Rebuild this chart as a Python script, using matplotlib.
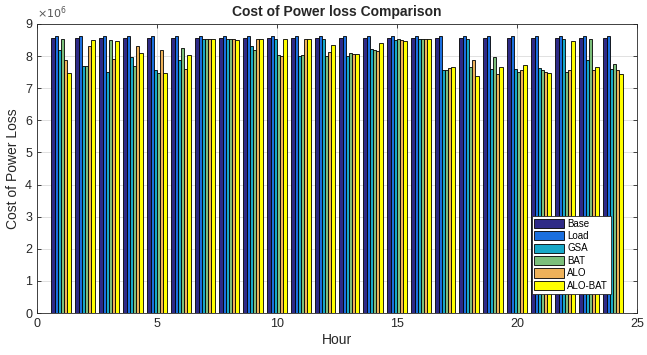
import numpy as np
import matplotlib.pyplot as plt

plt.rcParams["font.family"] = ["Liberation Sans", "DejaVu Sans"]

hours = np.arange(1, 25)
series_names = ["Base", "Load", "GSA", "BAT", "ALO", "ALO-BAT"]

# cost of power loss per hour (x 1e6)
base = [8.56] * 24
load = [8.64] * 24
gsa = [8.20, 7.68, 7.50, 7.97, 7.58, 7.88, 8.52, 8.52, 8.32, 8.52, 8.00, 8.54,
       8.00, 8.21, 8.50, 8.52, 7.58, 8.53, 7.59, 7.61, 7.64, 8.53, 7.87, 7.61]
bat = [8.52, 7.68, 8.50, 7.68, 7.47, 8.26, 8.52, 8.53, 8.18, 8.03, 8.02, 8.00,
       8.11, 8.18, 8.54, 8.52, 7.58, 7.65, 7.97, 7.51, 7.58, 7.51, 8.52, 7.74]
alo = [7.88, 8.30, 7.92, 8.33, 8.19, 7.60, 8.52, 8.52, 8.52, 7.99, 8.52, 8.13,
       8.08, 8.16, 8.50, 8.52, 7.63, 7.87, 7.44, 7.57, 7.51, 7.58, 7.56, 7.56]
alo_bat = [7.46, 8.50, 8.47, 8.11, 7.47, 8.05, 8.52, 8.50, 8.52, 8.52, 8.52, 8.35,
           8.06, 8.41, 8.48, 8.52, 7.66, 7.39, 7.66, 7.71, 7.47, 8.47, 7.66, 7.44]

colors = ["#2e2a87", "#1a6fdf", "#17a8c8", "#7cbf7b", "#efb25a", "#ffff00"]

all_series = [base, load, gsa, bat, alo, alo_bat]

fig = plt.figure(figsize=(6.47, 3.55), dpi=100)
ax = fig.add_axes([37 / 647, 42 / 355, 600 / 647, 289 / 355])

w = 0.8 / 6
for i, (name, vals) in enumerate(zip(series_names, all_series)):
    ax.bar(hours + (i - 2.5) * w, np.array(vals) * 1e6, width=w,
           color=colors[i], edgecolor="black", linewidth=0.6,
           label=name, zorder=3)

ax.set_xlim(0, 25)
ax.set_ylim(0, 9e6)
ax.set_xticks(np.arange(0, 26, 5))
ax.set_yticks(np.arange(0, 10) * 1e6)
ax.set_yticklabels([str(v) for v in range(10)])
ax.grid(True, color="#dcdcdc", linewidth=0.6, zorder=0)
ax.tick_params(direction="in", top=True, right=True, length=3,
               labelsize=9, colors="#262626", width=0.6)
for s in ax.spines.values():
    s.set_color("#262626")
    s.set_linewidth(0.6)

ax.text(0, 1.012, r"$\times10^6$", transform=ax.transAxes,
        fontsize=8, color="#555555", ha="left", va="bottom")
ax.set_title("Cost of Power loss Comparison", fontsize=10, fontweight="bold",
             color="#262626", pad=6)
ax.set_xlabel("Hour", fontsize=10, color="#262626", labelpad=2)
ax.set_ylabel("Cost of Power Loss", fontsize=10, color="#262626", labelpad=4)

leg = ax.legend(loc="lower right", bbox_to_anchor=(0.965, 0.05), fontsize=7,
                fancybox=False, framealpha=1, edgecolor="#262626",
                handlelength=3.0, handleheight=1.1, labelspacing=0.25,
                handletextpad=0.4, borderpad=0.3)
leg.get_frame().set_linewidth(0.6)
leg.set_zorder(5)

fig.savefig("out.png", dpi=100)
